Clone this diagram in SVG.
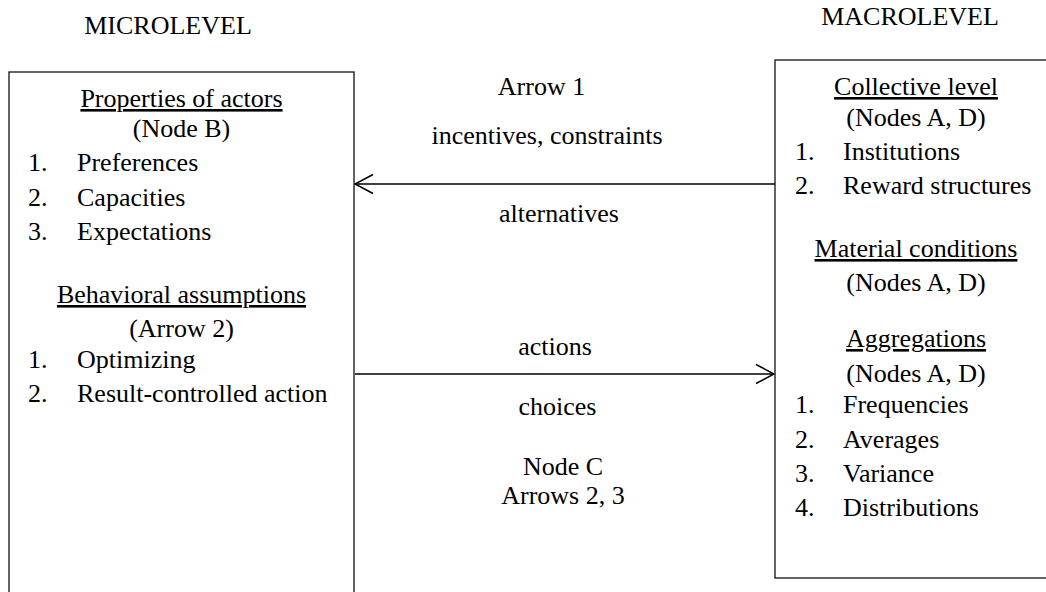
<svg xmlns="http://www.w3.org/2000/svg" width="1046" height="592" viewBox="0 0 1046 592">
<style>
text{font-family:"Liberation Serif","Times New Roman",serif;font-size:26px;fill:#000}
.c{text-anchor:middle}
.u{text-decoration:underline}
.box{fill:none;stroke:#111;stroke-width:1.3}
.conn{stroke:#000;stroke-width:1.3;fill:none}
</style>
<defs>
<marker id="open" viewBox="0 0 20 22" refX="19" refY="11" markerWidth="20" markerHeight="22" orient="auto" markerUnits="userSpaceOnUse">
<path d="M1,1.5 L19,11 L1,20.5" fill="none" stroke="#000" stroke-width="1.5"/>
</marker>
</defs>
<rect width="1046" height="592" fill="#fff"/>
<text class="c" x="168" y="34">MICROLEVEL</text>
<text class="c" x="910" y="25">MACROLEVEL</text>
<g id="micro">
<rect class="box" x="9" y="72" width="345" height="540"/>
<text class="c u" x="181.5" y="107">Properties of actors</text>
<text class="c" x="181.5" y="137">(Node B)</text>
<text x="28" y="171">1.</text><text x="77" y="171">Preferences</text>
<text x="28" y="205.5">2.</text><text x="77" y="205.5">Capacities</text>
<text x="28" y="240">3.</text><text x="77" y="240">Expectations</text>
<text class="c u" x="181.5" y="303">Behavioral assumptions</text>
<text class="c" x="181.5" y="337">(Arrow 2)</text>
<text x="28" y="367.5">1.</text><text x="77" y="367.5">Optimizing</text>
<text x="28" y="402">2.</text><text x="77" y="402">Result-controlled action</text>
</g>
<g id="macro">
<rect class="box" x="775" y="60" width="290" height="518"/>
<text class="c u" x="916" y="95">Collective level</text>
<text class="c" x="916" y="126">(Nodes A, D)</text>
<text x="795" y="160">1.</text><text x="843" y="160">Institutions</text>
<text x="795" y="194">2.</text><text x="843" y="194">Reward structures</text>
<text class="c u" x="916" y="257">Material conditions</text>
<text class="c" x="916" y="291">(Nodes A, D)</text>
<text class="c u" x="916" y="347">Aggregations</text>
<text class="c" x="916" y="382">(Nodes A, D)</text>
<text x="795" y="413">1.</text><text x="843" y="413">Frequencies</text>
<text x="795" y="447.5">2.</text><text x="843" y="447.5">Averages</text>
<text x="795" y="482">3.</text><text x="843" y="482">Variance</text>
<text x="795" y="516">4.</text><text x="843" y="516">Distributions</text>
</g>
<g id="connectors">
<line class="conn" x1="775" y1="184" x2="355" y2="184" marker-end="url(#open)"/>
<line class="conn" x1="355" y1="374" x2="774" y2="374" marker-end="url(#open)"/>
</g>
<g id="labels">
<text class="c" x="541.5" y="95">Arrow 1</text>
<text class="c" x="547" y="143.5">incentives, constraints</text>
<text class="c" x="559" y="222">alternatives</text>
<text class="c" x="555" y="355">actions</text>
<text class="c" x="557.5" y="415">choices</text>
<text class="c" x="563" y="475">Node C</text>
<text class="c" x="563" y="503.5">Arrows 2, 3</text>
</g>
</svg>
